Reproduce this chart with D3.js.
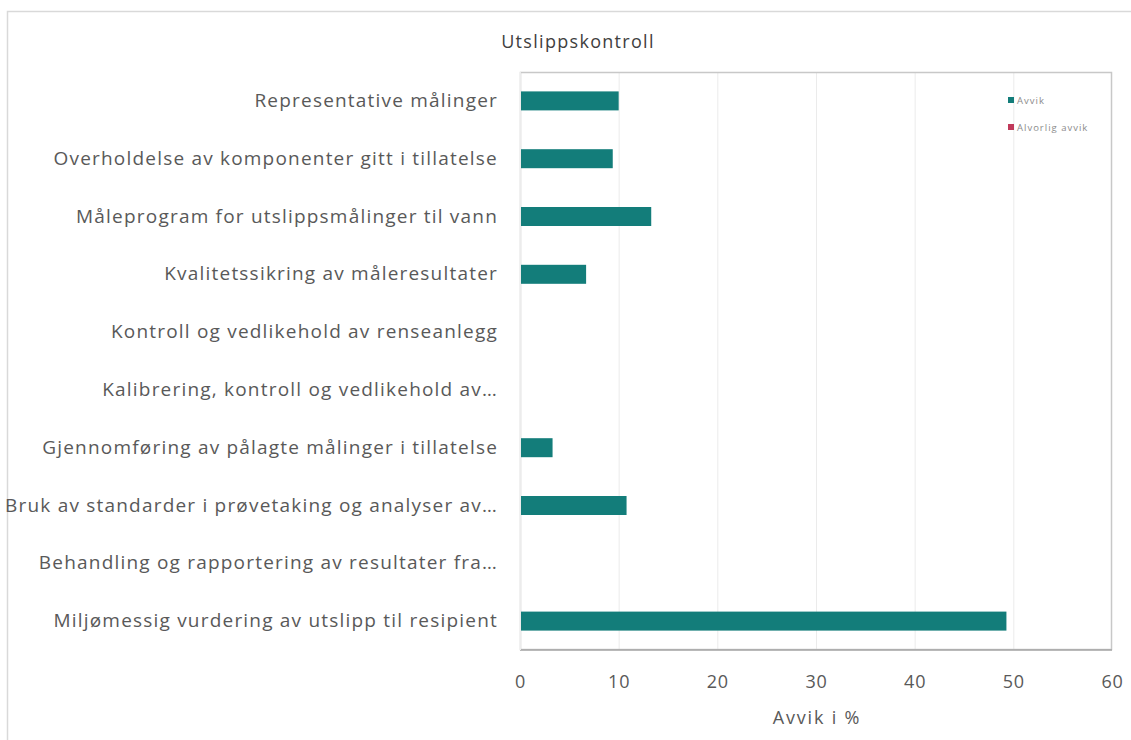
<!DOCTYPE html>
<html><head><meta charset="utf-8">
<script src="https://cdn.jsdelivr.net/npm/d3@7"></script>
<style>body{margin:0;background:#fff;} svg{display:block;}</style>
</head><body>
<script>
const categories = [
  "Representative målinger",
  "Overholdelse av komponenter gitt i tillatelse",
  "Måleprogram for utslippsmålinger til vann",
  "Kvalitetssikring av måleresultater",
  "Kontroll og vedlikehold av renseanlegg",
  "Kalibrering, kontroll og vedlikehold av…",
  "Gjennomføring av pålagte målinger i tillatelse",
  "Bruk av standarder i prøvetaking og analyser av…",
  "Behandling og rapportering av resultater fra…",
  "Miljømessig vurdering av utslipp til resipient"
];
const avvik = [10.0, 9.4, 13.3, 6.7, 0, 0, 3.3, 10.8, 0, 49.3];
const alvorligAvvik = [0, 0, 0, 0, 0, 0, 0, 0, 0, 0];
const xTicks = [0, 10, 20, 30, 40, 50, 60];
const seriesNames = ["Avvik", "Alvorlig avvik"];
const colors = ["#137d7a", "#c0395a"];

const W = 1131, H = 740;
const svg = d3.select("body").append("svg").attr("width", W).attr("height", H);
const font = "'Open Sans', sans-serif";

// outer chart border
svg.append("rect").attr("x", 7.5).attr("y", 11.5).attr("width", 1140).attr("height", 740)
  .attr("fill", "#fff").attr("stroke", "#d9d9d9").attr("stroke-width", 1.5);

const L = 520, R = 1112, T = 72, B = 650;
const x = d3.scaleLinear().domain([0, 60]).range([L, R]);
const y = d3.scaleBand().domain(categories).range([T, B]);

// gridlines
svg.append("g").selectAll("line").data(xTicks.slice(1, -1)).join("line")
  .attr("x1", d => x(d) + 0.5).attr("x2", d => x(d) + 0.5)
  .attr("y1", T).attr("y2", B).attr("stroke", "#ebebeb").attr("stroke-width", 1);

// frame
svg.append("rect").attr("x", L + 0.5).attr("y", T + 0.5).attr("width", R - L - 1).attr("height", B - T - 1)
  .attr("fill", "none").attr("stroke", "#c8c8c8").attr("stroke-width", 1.5);
svg.append("line").attr("x1", L).attr("x2", R).attr("y1", B).attr("y2", B)
  .attr("stroke", "#a6a6a6").attr("stroke-width", 1.5);
svg.append("line").attr("x1", L + 0.5).attr("x2", L + 0.5).attr("y1", T).attr("y2", B)
  .attr("stroke", "#ececec").attr("stroke-width", 1);

// bars
const barH = 19;
svg.append("g").selectAll("rect").data(categories.map((c, i) => ({c, v: avvik[i]}))).join("rect")
  .attr("x", x(0) + 1)
  .attr("y", d => y(d.c) + y.bandwidth() / 2 - barH / 2)
  .attr("width", d => Math.max(0, x(d.v) - x(0) - 1))
  .attr("height", barH)
  .attr("fill", colors[0]);

// x axis
const xAxis = d3.axisBottom(x).tickValues(xTicks).tickSize(0).tickPadding(25);
const gx = svg.append("g").attr("transform", `translate(0,${B})`).call(xAxis);
gx.select(".domain").remove();
gx.selectAll("text").attr("font-family", font).attr("font-size", 18).attr("fill", "#595959")
  .attr("letter-spacing", 0.8);

// y axis labels
const yAxis = d3.axisLeft(y).tickSize(0).tickPadding(22);
const gy = svg.append("g").attr("transform", `translate(${L},0)`).call(yAxis);
gy.select(".domain").remove();
gy.selectAll("text").attr("font-family", font).attr("font-size", 19).attr("fill", "#595959")
  .attr("letter-spacing", 1.2);

// title
svg.append("text").attr("x", 578).attr("y", 48).attr("text-anchor", "middle")
  .attr("font-family", font).attr("font-size", 18).attr("fill", "#404040")
  .attr("letter-spacing", 1.3).text("Utslippskontroll");

// axis title
svg.append("text").attr("x", 817).attr("y", 724).attr("text-anchor", "middle")
  .attr("font-family", font).attr("font-size", 18).attr("fill", "#595959")
  .attr("letter-spacing", 1.8).text("Avvik i %");

// legend
const lg = svg.append("g").selectAll("g").data(seriesNames).join("g")
  .attr("transform", (d, i) => `translate(1008,${97 + i * 27})`);
lg.append("rect").attr("width", 6).attr("height", 6).attr("fill", (d, i) => colors[i]);
lg.append("text").attr("x", 9).attr("y", 6.5).attr("font-family", font).attr("font-size", 9.5)
  .attr("fill", "#8c8c8c").attr("letter-spacing", 1).text(d => d);
</script>
</body></html>
